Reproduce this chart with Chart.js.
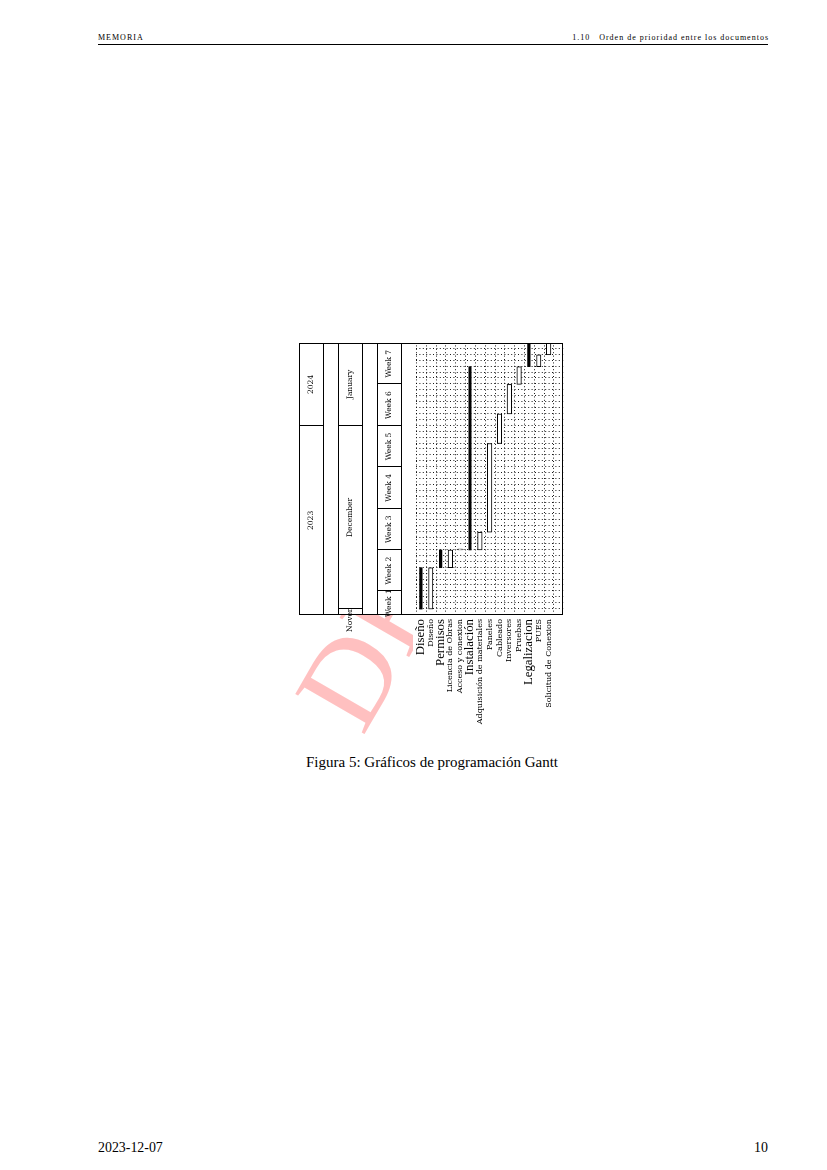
<!DOCTYPE html>
<html><head><meta charset="utf-8">
<script src="https://cdn.jsdelivr.net/npm/chart.js@4.4.0/dist/chart.umd.min.js"></script>
<style>
html,body{margin:0;padding:0;background:#fff;}
body{width:827px;height:1170px;position:relative;overflow:hidden;font-family:"Liberation Serif",serif;color:#000;}
.hdr{position:absolute;top:33px;font-size:8px;letter-spacing:1px;line-height:9px;white-space:nowrap;}
#rule{position:absolute;left:98px;top:43.5px;width:670px;height:1px;background:#000;}
#wm{position:absolute;left:363px;top:634.8px;font-size:122px;line-height:122px;color:#ffc0c0;white-space:nowrap;transform-origin:0 102.2px;transform:rotate(-60deg);}
#gantt{position:absolute;left:290px;top:750px;width:420px;height:285px;transform-origin:0 0;transform:rotate(-90deg);}
#caption{position:absolute;top:754px;left:0;width:864px;text-align:center;font-size:15px;line-height:17px;}
.foot{position:absolute;top:1140px;font-size:13.9px;line-height:16px;}
</style></head>
<body>
<div class="hdr" style="left:98px">MEMORIA</div>
<div class="hdr" style="right:58px">1.10&nbsp;&nbsp;&nbsp;Orden de prioridad entre los documentos</div>
<div id="rule"></div>
<div id="wm">DRAFT</div>
<div id="gantt"><canvas id="c" width="420" height="285"></canvas></div>
<div id="caption">Figura 5: Gráficos de programación Gantt</div>
<div class="foot" style="left:98px">2023-12-07</div>
<div class="foot" style="right:59px">10</div>
<script>
// ---- data ----
const calendarStart = '2023-11-30';
const calendarDays = 46;
const taskNames = ['Diseño','Diseño','Permisos','Licencia de Obras','Acceso y conexion','Instalación',
  'Adquisición de materiales','Paneles','Cableado','Inversores','Pruebas','Legalizacion','PUES','Solicitud de Conexion'];
const isGroup = [true,false,true,false,false,true,false,false,false,false,false,true,false,false];
const taskStart = ['2023-12-01','2023-12-01','2023-12-08','2023-12-08','2023-12-11','2023-12-11',
  '2023-12-11','2023-12-14','2023-12-29','2024-01-03','2024-01-08','2024-01-11','2024-01-11','2024-01-13'];
const taskEnd = ['2023-12-07','2023-12-07','2023-12-10','2023-12-10','2023-12-10','2024-01-10',
  '2023-12-13','2023-12-28','2024-01-02','2024-01-07','2024-01-10','2024-01-14','2024-01-12','2024-01-14'];
const monthNames = ['January','February','March','April','May','June','July','August','September','October','November','December'];
const weekPrefix = 'Week';

// ---- helpers ----
function toUTC(s){const p=s.split('-').map(Number);return Date.UTC(p[0],p[1]-1,p[2]);}
const t0 = toUTC(calendarStart);
function dayIndex(s){return Math.round((toUTC(s)-t0)/86400000);}

const groupData=[], taskData=[];
taskNames.forEach((n,i)=>{
  const pt={x:[dayIndex(taskStart[i]), dayIndex(taskEnd[i])+1], y:i};
  (isGroup[i]?groupData:taskData).push(pt);
});

function runs(keyFn,labelFn){
  const out=[];
  for(let d=0; d<calendarDays; d++){
    const k=keyFn(d);
    if(out.length && out[out.length-1].key===k){out[out.length-1].end=d+1;}
    else out.push({key:k,start:d,end:d+1,label:labelFn(d)});
  }
  return out;
}
function dateOf(d){return new Date(t0+d*86400000);}
const dowOffset=(dateOf(0).getUTCDay()+6)%7;
const yearRuns=runs(d=>dateOf(d).getUTCFullYear(), d=>String(dateOf(d).getUTCFullYear()));
const monthRuns=runs(d=>dateOf(d).getUTCFullYear()*12+dateOf(d).getUTCMonth(), d=>monthNames[dateOf(d).getUTCMonth()]);
const weekRuns=runs(d=>Math.floor((d+dowOffset)/7), d=>weekPrefix+' '+(Math.floor((d+dowOffset)/7)+1));

const SMALL='"DejaVu Serif", serif';
const titleH=24, gapH=15;

const ganttFrame={
  id:'ganttFrame',
  beforeDraw(chart){
    const {ctx,chartArea:a}=chart;
    const top=a.top-3*(titleH+gapH);
    ctx.save();
    ctx.fillStyle='#fff';
    ctx.fillRect(a.left,top,a.right-a.left,a.bottom-top);
    ctx.fillRect(0,a.top-3,a.left,chart.height-(a.top-3));
    ctx.restore();
  },
  beforeDatasetsDraw(chart){
    const {ctx,chartArea:a,scales:{x,y}}=chart;
    ctx.save();
    ctx.strokeStyle='rgba(0,0,0,0.9)';
    ctx.lineWidth=1;
    ctx.setLineDash([1,2.4]);
    for(let d=1; d<calendarDays; d++){
      const px=Math.round(x.getPixelForValue(d))+0.5;
      ctx.beginPath();ctx.moveTo(px,a.top);ctx.lineTo(px,a.bottom);ctx.stroke();
    }
    for(let i=-1;i<taskNames.length;i++){
      const py=Math.round(y.getPixelForValue(i+0.5))+0.5;
      ctx.beginPath();ctx.moveTo(a.left,py);ctx.lineTo(a.right,py);ctx.stroke();
    }
    ctx.restore();
  },
  afterDatasetsDraw(chart){
    const {ctx,chartArea:a,scales:{x}}=chart;
    const top=a.top-3*(titleH+gapH);
    const L=Math.round(a.left)+0.5, R=Math.round(a.right)-0.5;
    ctx.save();
    ctx.lineWidth=1; ctx.strokeStyle='#000'; ctx.setLineDash([]);
    [yearRuns,monthRuns,weekRuns].forEach((rr,ri)=>{
      const y0=top+ri*(titleH+gapH)+0.5, y1=y0+titleH;
      rr.forEach(r=>{
        const xa=Math.max(L,Math.round(x.getPixelForValue(r.start))+0.5);
        const xb=Math.min(R,Math.round(x.getPixelForValue(r.end))+0.5);
        ctx.fillStyle='#fff';
        ctx.fillRect(xa,y0,xb-xa,titleH);
        ctx.strokeRect(xa,y0,xb-xa,titleH);
        ctx.fillStyle='#000';
        ctx.font='7.5px '+SMALL;
        ctx.textAlign='center'; ctx.textBaseline='middle';
        let cx=(x.getPixelForValue(r.start)+x.getPixelForValue(r.end))/2;
        ctx.fillText(r.label,cx,(y0+y1)/2);
      });
    });
    ctx.strokeRect(L,top+0.5,R-L,Math.round(a.bottom)-top-1);
    ctx.restore();
  }
};

new Chart(document.getElementById('c'),{
  type:'bar',
  data:{datasets:[
    {label:'Grupos',data:groupData,backgroundColor:'#000',borderWidth:0,barThickness:2.5,grouped:false},
    {label:'Tareas',data:taskData,backgroundColor:'#fff',borderColor:'#000',borderWidth:1,borderSkipped:false,barThickness:4.5,grouped:false,minBarLength:1}
  ]},
  options:{
    indexAxis:'y',responsive:false,animation:false,devicePixelRatio:1,
    layout:{padding:{left:0,top:126,right:13,bottom:11}},
    plugins:{legend:{display:false},tooltip:{enabled:false}},
    scales:{
      x:{type:'linear',min:0,max:calendarDays,display:false},
      y:{type:'linear',min:-0.5,max:14.5,reverse:true,offset:false,
        afterBuildTicks:s=>{s.ticks=taskNames.map((_,i)=>({value:i}));},
        afterFit:s=>{s.width=135;},
        grid:{display:false,drawTicks:false,tickLength:0},border:{display:false},
        ticks:{autoSkip:false,padding:4,color:'#000',
          callback:(v)=>taskNames[v],
          font:c=>isGroup[c.index]?{family:'"Liberation Serif", serif',size:12.8}:{family:SMALL,size:8}}
      }
    }
  },
  plugins:[ganttFrame]
});
</script>
</body></html>
